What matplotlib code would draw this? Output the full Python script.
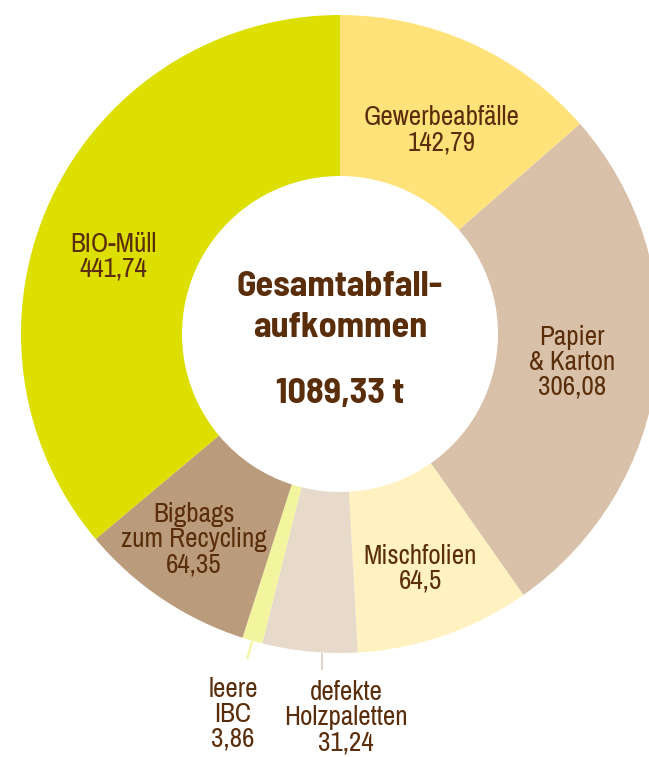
import numpy as np
import matplotlib
matplotlib.use("Agg")
import matplotlib.pyplot as plt

# categories, clockwise from 12 o'clock
labels = ["Gewerbeabfälle", "Papier\n& Karton", "Mischfolien", "defekte\nHolzpaletten",
          "leere\nIBC", "Bigbags\nzum Recycling", "BIO-Müll"]
values = ["142,79", "306,08", "64,5", "31,24", "3,86", "64,35", "441,74"]
# wedge sizes as drawn in the original graphic (degrees)
wedge_deg = [48.8, 96.1, 31.9, 17.3, 3.7, 32.2, 130.0]
colors = ["#FFE37A", "#D8C1A8", "#FFF1C0", "#E7DACB", "#F2F59E", "#BA9C7C", "#DCDF00"]
title_lines = ["Gesamtabfall-", "aufkommen"]
total_label = "1089,33 t"

W, H = 649, 757
CX, CY = 340, 334
R_OUT, R_IN = 319, 158
BROWN = "#5B2E0B"
FONT = ["Archivo Narrow", "DejaVu Sans"]
FONT_BOLD = ["Barlow Semi Condensed", "DejaVu Sans"]
LINE_STEP = 25


def py(y):
    return H - y


fig = plt.figure(figsize=(W / 100, H / 100), dpi=100)
ax = fig.add_axes([0, 0, 1, 1])

ax.pie(wedge_deg, colors=colors, startangle=90, counterclock=False,
       radius=R_OUT, center=(CX, py(CY)),
       wedgeprops=dict(width=R_OUT - R_IN, linewidth=0))

ax.set_xlim(0, W)
ax.set_ylim(0, H)
ax.set_aspect("auto")
ax.axis("off")

# label anchors: (x center, baseline of first line) in pixels
label_pos = [(442, 125), (572, 345), (420, 564), (346, 700),
             (233, 697), (194, 522), (113, 252)]
for lab, val, (x, y) in zip(labels, values, label_pos):
    for i, line in enumerate(lab.split("\n") + [val]):
        ax.text(x, py(y + i * LINE_STEP), line, ha="center", va="baseline",
                fontsize=19.5, color=BROWN, family=FONT)

# leader line for the tiny IBC slice (radial, from wedge middle)
cum = np.cumsum([0] + wedge_deg)
mid = np.deg2rad((cum[4] + cum[5]) / 2)
r0, r1 = R_OUT, R_OUT + 19
ax.plot([CX + r0 * np.sin(mid), CX + r1 * np.sin(mid)],
        [py(CY - r0 * np.cos(mid)), py(CY - r1 * np.cos(mid))],
        color="#F2F59E", lw=1.6, solid_capstyle="butt")
# small tick under the pallet slice
ax.plot([322, 322], [py(653), py(670)], color="#E2D4C6", lw=1.4, solid_capstyle="butt")

# centre text
for txt, base in zip(title_lines + [total_label], [296, 337, 403]):
    ax.text(CX, py(base), txt, ha="center", va="baseline", fontsize=26,
            fontweight="bold", color=BROWN, family=FONT_BOLD)

fig.savefig("out.png", dpi=100)
